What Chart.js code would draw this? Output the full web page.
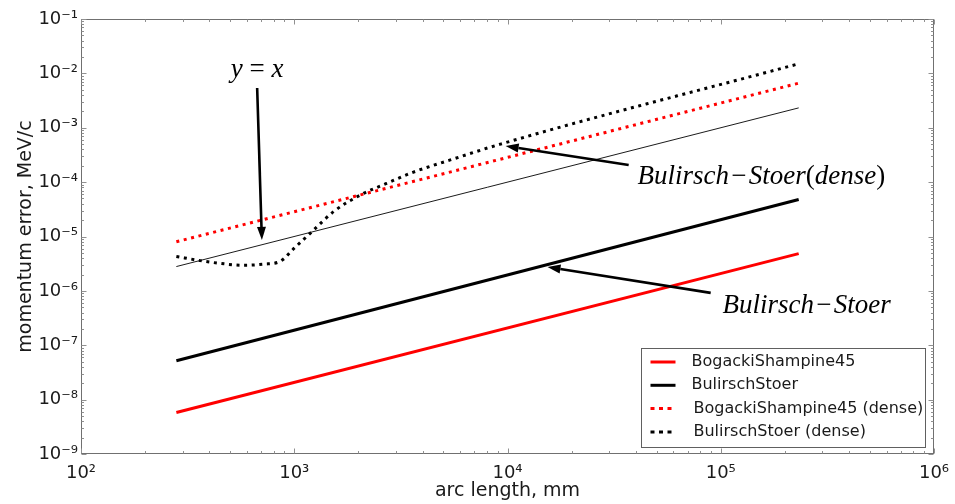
<!DOCTYPE html>
<html><head><meta charset="utf-8">
<script src="https://cdn.jsdelivr.net/npm/chart.js@4.4.1/dist/chart.umd.min.js"></script>
<style>html,body{margin:0;padding:0;background:#fff;}</style>
</head><body>
<canvas id="c" width="955" height="504"></canvas>
<script>
// ---------- data ----------
const lineX = [280, 232000];
const bogackiY = [5.8e-9, 4.85e-6];
const bulirschY = [5.2e-8, 4.8e-5];
const identityY = [2.8e-6, 2.32e-3];
const bogackiDenseY = [8.0e-6, 6.6e-3];
const bulirschDenseX = [280, 362, 450, 577, 720, 860, 1000, 1211, 1530, 2042, 2723, 3510, 5395, 9270, 232000];
const bulirschDenseY = [4.3e-6, 3.6e-6, 3.2e-6, 2.95e-6, 3.1e-6, 3.5e-6, 6.1e-6, 1.23e-5, 2.87e-5, 5.8e-5, 9.55e-5, 1.46e-4, 2.56e-4, 5.0e-4, 1.5e-2];
const seriesLabels = ['BogackiShampine45', 'BulirschStoer', 'BogackiShampine45 (dense)', 'BulirschStoer (dense)'];
const identityLabel = 'y = x';
const xRange = [1e2, 1e6];
const yRange = [1e-9, 1e-1];
const xAxisTitle = 'arc length, mm';
const yAxisTitle = 'momentum error, MeV/c';
// annotation anchors (data coordinates)
const arrowFrom = [[670, 5.4e-3], [3.70e4, 2.07e-4], [8.97e4, 9.2e-7]];
const arrowTo   = [[705, 8.65e-6], [9.8e3, 4.62e-4], [1.54e4, 2.76e-6]];
const noteAt    = [[670, 1.15e-2], [4.07e4, 1.25e-4], [1.02e5, 5.3e-7]];

// ---------- helpers ----------
const pts = (xs, ys) => xs.map((x, i) => ({x, y: ys[i]}));
const SUP = {'0':'⁰','1':'¹','2':'²','3':'³','4':'⁴','5':'⁵','6':'⁶','7':'⁷','8':'⁸','9':'⁹','-':'⁻'};
function decadeLabel(v) {
  const e = Math.log10(v), r = Math.round(e);
  if (Math.abs(e - r) > 1e-6) return '';
  return '10' + String(r).split('').map(c => SUP[c]).join('');
}
function buildLogTicks(scale) {
  const t = [];
  const lo = Math.round(Math.log10(scale.min)), hi = Math.round(Math.log10(scale.max));
  for (let e = lo; e <= hi; e++) {
    for (let m = 1; m <= 9; m++) {
      const v = m * Math.pow(10, e);
      if (v > scale.max * 1.000001) break;
      t.push({value: v, major: m === 1});
    }
  }
  scale.ticks = t;
}

const RED = '#ff0000', BLACK = '#000000';
const DOT = [3, 4.6];

// ---------- plugins ----------
const frameTicks = {
  id: 'frameTicks',
  afterDraw(chart) {
    const {ctx, chartArea: a, scales: {x, y}} = chart;
    ctx.save();
    ctx.strokeStyle = '#707070';
    ctx.lineWidth = 1;
    const L = Math.round(a.left) + 0.5, R = Math.round(a.right) - 0.5;
    const T = Math.round(a.top) + 0.5, B = Math.round(a.bottom) - 0.5;
    ctx.strokeRect(L, T, R - L, B - T);
    ctx.strokeStyle = '#909090';
    ctx.beginPath();
    x.ticks.forEach(t => {
      const p = Math.round(x.getPixelForValue(t.value)) + 0.5;
      const len = t.major ? 5 : 2.5;
      ctx.moveTo(p, B); ctx.lineTo(p, B - len);
      ctx.moveTo(p, T); ctx.lineTo(p, T + len);
    });
    y.ticks.forEach(t => {
      const p = Math.round(y.getPixelForValue(t.value)) + 0.5;
      const len = t.major ? 5 : 2.5;
      ctx.moveTo(L, p); ctx.lineTo(L + len, p);
      ctx.moveTo(R, p); ctx.lineTo(R - len, p);
    });
    ctx.stroke();
    ctx.restore();
  }
};

function drawRuns(ctx, runs, x, y, align) {
  let w = 0;
  runs.forEach(r => { ctx.font = r.font; r.w = ctx.measureText(r.t).width; w += r.w; });
  let cx = align === 'center' ? x - w / 2 : x;
  ctx.textBaseline = 'middle';
  ctx.textAlign = 'left';
  runs.forEach(r => { ctx.font = r.font; ctx.fillText(r.t, cx, y); cx += r.w; });
}

const notes = {
  id: 'notes',
  afterDatasetsDraw(chart) {
    const {ctx, scales: {x, y}} = chart;
    const P = d => [x.getPixelForValue(d[0]), y.getPixelForValue(d[1])];
    ctx.save();
    ctx.fillStyle = '#000'; ctx.strokeStyle = '#000';
    arrowFrom.forEach((f, i) => {
      const [x0, y0] = P(f), [x1, y1] = P(arrowTo[i]);
      const ang = Math.atan2(y1 - y0, x1 - x0);
      const hl = 13, hw = 4.5;
      const bx = x1 - hl * Math.cos(ang), by = y1 - hl * Math.sin(ang);
      ctx.lineWidth = 2.6;
      ctx.beginPath(); ctx.moveTo(x0, y0); ctx.lineTo(bx, by); ctx.stroke();
      ctx.beginPath();
      ctx.moveTo(x1, y1);
      ctx.lineTo(bx + hw * Math.sin(ang), by - hw * Math.cos(ang));
      ctx.lineTo(bx - hw * Math.sin(ang), by + hw * Math.cos(ang));
      ctx.closePath(); ctx.fill();
    });
    const it = 'italic 27px "Liberation Serif"', up = '27px "Liberation Serif"';
    const runsList = [
      [{t: 'y', font: it}, {t: ' = ', font: up}, {t: 'x', font: it}],
      [{t: 'Bulirsch', font: it}, {t: '\u200A\u2212\u200A', font: up}, {t: 'Stoer', font: it}, {t: '(', font: up}, {t: 'dense', font: it}, {t: ')', font: up}],
      [{t: 'Bulirsch', font: it}, {t: '\u200A\u2212\u200A', font: up}, {t: 'Stoer', font: it}]
    ];
    noteAt.forEach((n, i) => {
      const [px, py] = P(n);
      drawRuns(ctx, runsList[i], px, py, i === 0 ? 'center' : 'left');
    });
    ctx.restore();
  }
};

const boxLegend = {
  id: 'boxLegend',
  afterDraw(chart) {
    const {ctx, chartArea: a} = chart;
    const items = chart.data.datasets.filter(d => d.inLegend);
    const w = 284, rowH = 23.3, h = 99;
    const left = Math.round(a.right - 9 - w) + 0.5, top = Math.round(a.bottom - 7 - h) + 0.5;
    ctx.save();
    ctx.fillStyle = '#fff';
    ctx.fillRect(left, top, w, h);
    ctx.strokeStyle = '#606060'; ctx.lineWidth = 1;
    ctx.strokeRect(left, top, w, h);
    ctx.font = '16px "DejaVu Sans"';
    ctx.textBaseline = 'middle';
    ctx.fillStyle = '#1a1a1a';
    items.forEach((d, i) => {
      const cy = top + 13.5 + i * rowH;
      ctx.strokeStyle = d.borderColor;
      ctx.lineWidth = d.borderWidth;
      ctx.setLineDash(d.borderDash ? [4, 4.5] : []);
      ctx.beginPath();
      ctx.moveTo(left + 9, cy); ctx.lineTo(left + 34, cy);
      ctx.stroke();
      ctx.setLineDash([]);
      ctx.fillText(d.label, left + (d.borderDash ? 52 : 50), cy);
    });
    ctx.restore();
  }
};

// ---------- chart ----------
const tickFont = {family: 'DejaVu Sans', size: 18};
new Chart(document.getElementById('c'), {
  type: 'line',
  data: {
    datasets: [
      {label: seriesLabels[0], data: pts(lineX, bogackiY), borderColor: RED, borderWidth: 3, inLegend: true},
      {label: seriesLabels[1], data: pts(lineX, bulirschY), borderColor: BLACK, borderWidth: 3, inLegend: true},
      {label: seriesLabels[2], data: pts(lineX, bogackiDenseY), borderColor: RED, borderWidth: 3, borderDash: DOT, inLegend: true},
      {label: seriesLabels[3], data: pts(bulirschDenseX, bulirschDenseY), borderColor: BLACK, borderWidth: 3, borderDash: DOT, cubicInterpolationMode: 'monotone', inLegend: true},
      {label: identityLabel, data: pts(lineX, identityY), borderColor: BLACK, borderWidth: 0.9, inLegend: false}
    ].map(d => Object.assign({pointRadius: 0, fill: false, borderCapStyle: 'butt'}, d))
  },
  options: {
    responsive: false,
    animation: false,
    devicePixelRatio: 1,
    layout: {padding: {top: 19, right: 21, left: 0, bottom: 0}},
    plugins: {legend: {display: false}, tooltip: {enabled: false}},
    scales: {
      x: {
        type: 'logarithmic', min: xRange[0], max: xRange[1],
        afterBuildTicks: buildLogTicks,
        afterFit: s => { s.height = 50; s.paddingLeft = 0; s.paddingRight = 0; },
        grid: {display: false, drawTicks: false}, border: {display: false},
        ticks: {autoSkip: false, maxRotation: 0, padding: 9, color: '#1a1a1a', font: tickFont, callback: v => decadeLabel(v)},
        title: {display: true, text: xAxisTitle, color: '#1a1a1a', font: {family: 'DejaVu Sans', size: 19}, padding: {top: 0, bottom: 2}}
      },
      y: {
        type: 'logarithmic', min: yRange[0], max: yRange[1],
        afterBuildTicks: buildLogTicks,
        afterFit: s => { s.width = 81; s.paddingTop = 0; s.paddingBottom = 0; },
        grid: {display: false, drawTicks: false}, border: {display: false},
        ticks: {autoSkip: false, padding: 3, color: '#1a1a1a', font: tickFont, callback: v => decadeLabel(v)},
        title: {display: true, text: yAxisTitle, color: '#1a1a1a', font: {family: 'DejaVu Sans', size: 19}, padding: {top: 15, bottom: 0}}
      }
    }
  },
  plugins: [frameTicks, notes, boxLegend]
});
</script>
</body></html>
